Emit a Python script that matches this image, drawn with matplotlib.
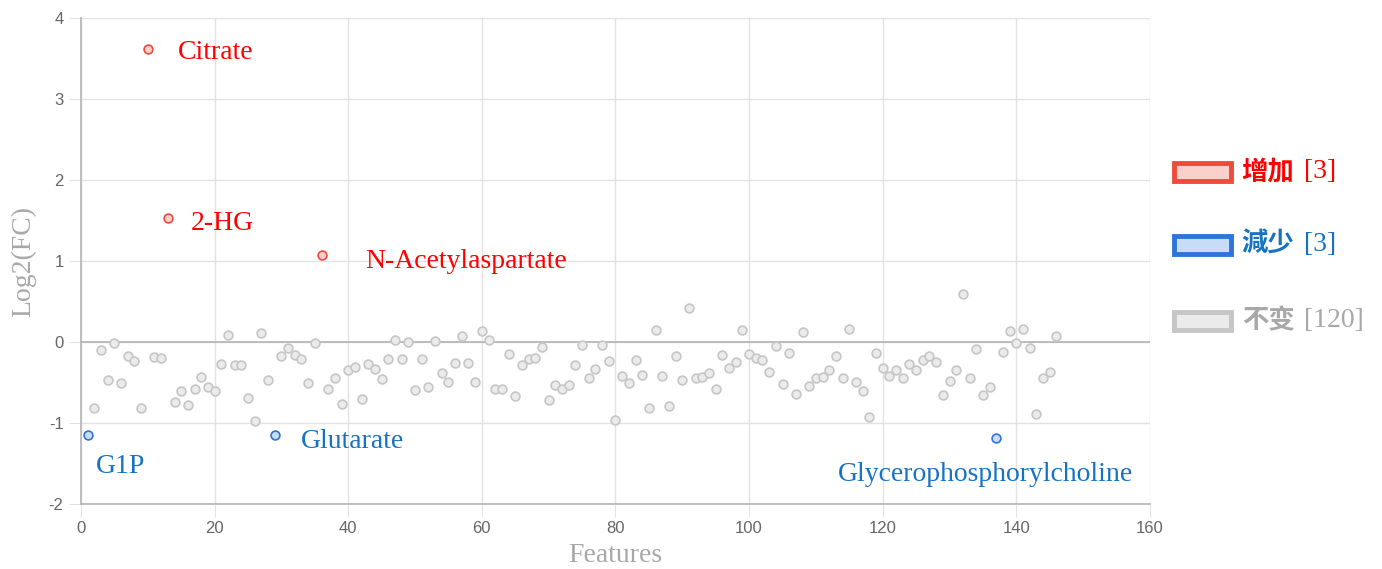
import matplotlib.pyplot as plt
from matplotlib.patches import Rectangle

plt.rcParams['axes.unicode_minus'] = False

# Unchanged features (feature index, log2 fold change)
grey_x = [2, 3, 4, 5, 6, 7, 8, 9, 11, 12, 14, 15, 16, 17, 18, 19, 20, 21, 22, 23,
          24, 25, 26, 27, 28, 30, 31, 32, 33, 34, 35, 37, 38, 39, 40, 41, 42, 43, 44, 45,
          46, 47, 48, 49, 50, 51, 52, 53, 54, 55, 56, 57, 58, 59, 60, 61, 62, 63, 64, 65,
          66, 67, 68, 69, 70, 71, 72, 73, 74, 75, 76, 77, 78, 79, 80, 81, 82, 83, 84, 85,
          86, 87, 88, 89, 90, 91, 92, 93, 94, 95, 96, 97, 98, 99, 100, 101, 102, 103, 104, 105,
          106, 107, 108, 109, 110, 111, 112, 113, 114, 115, 116, 117, 118, 119, 120, 121, 122, 123, 124, 125,
          126, 127, 128, 129, 130, 131, 132, 133, 134, 135, 136, 138, 139, 140, 141, 142, 143, 144, 145, 146]
grey_y = [-0.82, -0.10, -0.47, -0.01, -0.50, -0.17, -0.24, -0.81, -0.18, -0.20, -0.74, -0.60, -0.78, -0.58, -0.43, -0.56, -0.60, -0.27, 0.09, -0.29,
          -0.28, -0.69, -0.97, 0.11, -0.47, -0.17, -0.07, -0.16, -0.21, -0.50, -0.01, -0.58, -0.44, -0.76, -0.34, -0.31, -0.70, -0.27, -0.33, -0.46,
          -0.21, 0.02, -0.21, 0.00, -0.59, -0.21, -0.56, 0.01, -0.38, -0.49, -0.26, 0.08, -0.26, -0.49, 0.14, 0.02, -0.58, -0.58, -0.15, -0.67,
          -0.29, -0.21, -0.20, -0.06, -0.72, -0.53, -0.58, -0.53, -0.29, -0.04, -0.44, -0.33, -0.04, -0.23, -0.96, -0.42, -0.50, -0.22, -0.41, -0.81,
          0.15, -0.42, -0.79, -0.17, -0.47, 0.42, -0.44, -0.43, -0.38, -0.58, -0.16, -0.32, -0.25, 0.15, -0.15, -0.20, -0.22, -0.37, -0.05, -0.52,
          -0.13, -0.64, 0.12, -0.54, -0.45, -0.43, -0.34, -0.17, -0.44, 0.16, -0.49, -0.60, -0.92, -0.14, -0.32, -0.42, -0.34, -0.44, -0.27, -0.34,
          -0.22, -0.17, -0.25, -0.66, -0.48, -0.35, 0.59, -0.44, -0.09, -0.66, -0.56, -0.12, 0.14, -0.01, 0.16, -0.07, -0.89, -0.44, -0.37, 0.07]

# Increased features
up_names = ['Citrate', '2-HG', 'N-Acetylaspartate']
up_x = [10, 13, 36]
up_y = [3.62, 1.53, 1.07]

# Decreased features
down_names = ['G1P', 'Glutarate', 'Glycerophosphorylcholine']
down_x = [1, 29, 137]
down_y = [-1.15, -1.15, -1.18]

legend_labels = ['增加', '減少', '不变']
legend_counts = ['[3]', '[3]', '[120]']

red_edge, red_fill, red_text = '#f04a3c', '#fbd0cc', '#ff0000'
blue_edge, blue_fill, blue_text = '#2f74d8', '#c9dcf7', '#1672c4'
grey_edge, grey_fill, grey_text = '#c6c6c6', '#ebebeb', '#a8a8a8'

serif = 'Liberation Serif'
sans = 'Liberation Sans'
cjk = 'Noto Sans CJK SC'

fig = plt.figure(figsize=(13.82, 5.69), dpi=100)
ax = fig.add_axes([0.0586, 0.1142, 0.7735, 0.8542])

ax.scatter(grey_x, grey_y, s=40, facecolor=grey_fill, edgecolor=grey_edge, linewidth=1.2, zorder=3)
ax.scatter(up_x, up_y, s=40, facecolor=red_fill, edgecolor=red_edge, linewidth=1.2, zorder=4)
ax.scatter(down_x, down_y, s=40, facecolor=blue_fill, edgecolor=blue_edge, linewidth=1.2, zorder=4)

# label offsets in pixels (dx, dy) and horizontal alignment
up_offsets = [(30, -4, 'left'), (23, -5, 'left'), (44, -6, 'left')]
down_offsets = [(8, -31, 'left'), (26, -6, 'left'), (-11, -37, 'center')]
for name, x, y, (dx, dy, ha) in zip(up_names, up_x, up_y, up_offsets):
    ax.annotate(name, (x, y), xytext=(dx, dy), textcoords='offset pixels',
                ha=ha, va='center', color=red_text, fontsize=20, family=serif)
for name, x, y, (dx, dy, ha) in zip(down_names, down_x, down_y, down_offsets):
    ax.annotate(name, (x, y), xytext=(dx, dy), textcoords='offset pixels',
                ha=ha, va='center', color=blue_text, fontsize=20, family=serif)

ax.set_xlim(0, 160)
ax.set_ylim(-2, 4)
ax.set_xticks(range(0, 161, 20))
ax.set_yticks(range(-2, 5))
ax.grid(True, color='#e2e2e2', linewidth=1)
ax.axhline(0, color='#b4b4b4', linewidth=1.2, zorder=2)
for side in ['top', 'right']:
    ax.spines[side].set_visible(False)
for side in ['left', 'bottom']:
    ax.spines[side].set_color('#b4b4b4')
    ax.spines[side].set_linewidth(1.2)
ax.tick_params(length=9, color='#e2e2e2', labelcolor='#666666', labelsize=12)
for lbl in ax.get_xticklabels() + ax.get_yticklabels():
    lbl.set_family(sans)
ax.set_axisbelow(True)

ax.set_xlabel('Features', family=serif, fontsize=20, color=grey_text, labelpad=5)
ax.set_ylabel('Log2(FC)', family=serif, fontsize=20, color=grey_text, labelpad=9)

# legend on the right
legend_y = [0.698, 0.570, 0.436]
legend_styles = [(red_edge, red_fill, red_text), (blue_edge, blue_fill, blue_text),
                 (grey_edge, grey_fill, grey_text)]
for label, count, ly, (ec, fc, tc) in zip(legend_labels, legend_counts, legend_y, legend_styles):
    fig.patches.append(Rectangle((0.8495, ly - 0.016), 0.0415, 0.032, transform=fig.transFigure,
                                 facecolor=fc, edgecolor=ec, linewidth=3.5))
    fig.text(0.8985, ly, label, family=cjk, fontsize=19, fontweight='bold',
             color=tc, va='center', ha='left')
    fig.text(0.9435, ly, count, family=serif, fontsize=20, color=tc, va='center', ha='left')

fig.savefig('out.png', dpi=100)
